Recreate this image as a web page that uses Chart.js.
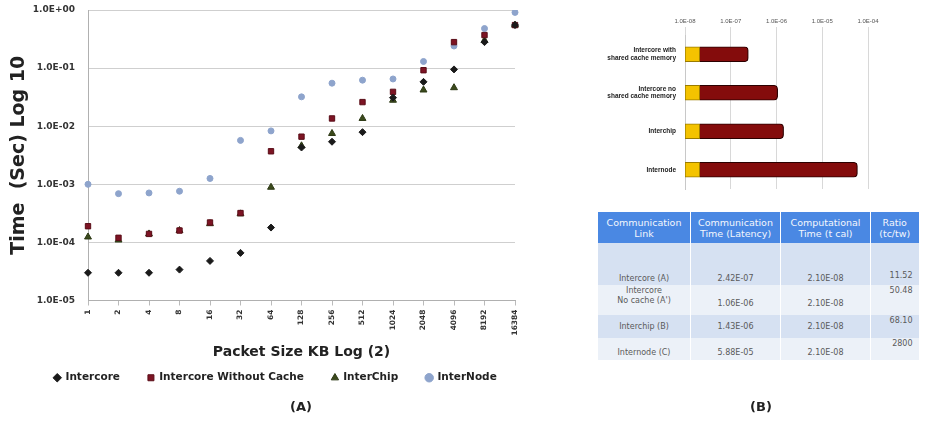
<!DOCTYPE html>
<html>
<head>
<meta charset="utf-8">
<script src="https://cdn.jsdelivr.net/npm/chart.js@4.4.1/dist/chart.umd.min.js"></script>
<style>
  html, body { margin:0; padding:0; background:#fff; width:925px; height:427px; overflow:hidden; font-family:"DejaVu Sans", sans-serif; }
  #wrapA { position:absolute; left:0; top:0; width:540px; height:409px; }
  #wrapB { position:absolute; left:590px; top:0; width:300px; height:200px; }
  .cap { position:absolute; top:399px; font:bold 13px "DejaVu Sans", sans-serif; color:#222; width:40px; text-align:center; }
  #tbl { position:absolute; left:597px; top:212px; width:321px; border-collapse:collapse; table-layout:fixed; font:8px "DejaVu Sans", sans-serif; color:#5a5a5a; }
  #tbl th { background:#4a88e3; color:#f4f7fd; font-weight:normal; font-size:9.5px; height:31px; padding:0; line-height:11px; border-left:1px solid #fff; vertical-align:middle; white-space:nowrap; overflow:hidden; }
  #tbl td { padding:0 1px; text-align:center; border-left:1px solid #fff; line-height:10px; white-space:nowrap; }
  #tbl tr.odd td { background:#d6e1f2; }
  #tbl tr.even td { background:#ecf1f8; }
</style>
</head>
<body>
<div id="wrapA"><canvas id="chartA"></canvas></div>
<div id="wrapB"><canvas id="chartB"></canvas></div>
<table id="tbl"></table>
<div class="cap" style="left:281px;">(A)</div>
<div class="cap" style="left:741px;">(B)</div>
<script>
// ---------- Panel A data ----------
const packetSizes = ['1','2','4','8','16','32','64','128','256','512','1024','2048','4096','8192','16384'];
const intercore        = [3.0e-5, 3.0e-5, 3.0e-5, 3.4e-5, 4.8e-5, 6.6e-5, 1.8e-4, 4.3e-3, 5.4e-3, 7.9e-3, 3.1e-2, 5.8e-2, 9.5e-2, 2.8e-1, 5.5e-1];
const intercoreNoCache = [1.9e-4, 1.2e-4, 1.4e-4, 1.6e-4, 2.2e-4, 3.2e-4, 3.7e-3, 6.6e-3, 1.36e-2, 2.6e-2, 3.9e-2, 9.2e-2, 2.8e-1, 3.7e-1, 5.5e-1];
const interChip        = [1.24e-4, 1.1e-4, 1.4e-4, 1.6e-4, 2.1e-4, 3.1e-4, 8.9e-4, 4.6e-3, 7.5e-3, 1.36e-2, 2.8e-2, 4.2e-2, 4.6e-2, 3.0e-1, 5.5e-1];
const interNode        = [1.0e-3, 6.9e-4, 7.1e-4, 7.6e-4, 1.26e-3, 5.7e-3, 8.3e-3, 3.2e-2, 5.5e-2, 6.2e-2, 6.5e-2, 1.3e-1, 2.4e-1, 4.8e-1, 9.1e-1];
const seriesNames = ['Intercore', 'Intercore Without Cache', 'InterChip', 'InterNode'];
const yTicksA = [1e-5, 1e-4, 1e-3, 1e-2, 1e-1, 1];

// ---------- Panel B data ----------
const barLabels = [['Intercore with','shared cache memory'], ['Intercore no','shared cache memory'], ['Interchip'], ['Internode']];
const linkNames = ['Intercore (A)', 'Intercore<br>No cache (A\')', 'Interchip (B)', 'Internode (C)'];
const commTime = [2.42e-7, 1.06e-6, 1.43e-6, 5.88e-5];
const compTime = [2.10e-8, 2.10e-8, 2.10e-8, 2.10e-8];
const ratios   = ['11.52', '50.48', '68.10', '2800'];
const tableHeaders = ['Communication<br>Link', 'Communication<br>Time (Latency)', 'Computational<br>Time (t cal)', 'Ratio<br>(tc/tw)'];
const xTicksB = [1e-8, 1e-7, 1e-6, 1e-5, 1e-4];

const FONT = '"DejaVu Sans", sans-serif';
const FONT2 = '"Liberation Sans", Arial, sans-serif';
function expFmt(v, digits) {
  const e = Math.floor(Math.log10(v) + 1e-9);
  const m = v / Math.pow(10, e);
  return m.toFixed(digits) + 'E' + (e < 0 ? '-' : '+') + String(Math.abs(e)).padStart(2, '0');
}

// ---------- Chart A ----------
const legendShift = {
  id: 'legendShift',
  afterLayout(chart) {
    if (chart.legend) {
      chart.legend.top -= 16;
      chart.legend.bottom -= 16;
      chart.legend.left += 18;
      chart.legend.right += 18;
    }
  }
};

new Chart(document.getElementById('chartA'), {
  type: 'line',
  plugins: [legendShift],
  data: {
    labels: packetSizes,
    datasets: [
      { label: seriesNames[0], data: intercore, pointStyle: 'rectRot', pointRadius: 3.5, backgroundColor: '#1a1a1a', borderColor: '#1a1a1a' },
      { label: seriesNames[1], data: intercoreNoCache, pointStyle: 'rect', pointRadius: 3.8, backgroundColor: '#7d1424', borderColor: '#5a0e18' },
      { label: seriesNames[2], data: interChip, pointStyle: 'triangle', pointRadius: 4, backgroundColor: '#3b4a1c', borderColor: '#2c3814' },
      { label: seriesNames[3], data: interNode, pointStyle: 'circle', pointRadius: 3, backgroundColor: '#8ea4cc', borderColor: '#8ea4cc' }
    ].map(d => Object.assign(d, { showLine: false, borderWidth: 1 }))
  },
  options: {
    animation: false,
    responsive: true,
    maintainAspectRatio: false,
    layout: { padding: { left: 0, right: 25, top: 10, bottom: 0 } },
    plugins: {
      tooltip: { enabled: false },
      legend: {
        position: 'bottom',
        labels: {
          usePointStyle: true, boxWidth: 6, boxHeight: 6, padding: 28,
          font: { family: FONT, size: 10.5, weight: 'bold' }, color: '#222'
        }
      }
    },
    scales: {
      x: {
        type: 'category',
        offset: false,
        grid: { display: true, drawOnChartArea: false, drawTicks: true, tickLength: 5, color: '#bbb' },
        border: { color: '#b0b0b0' },
        ticks: { autoSkip: false, minRotation: 90, maxRotation: 90, padding: 4, font: { family: FONT, size: 7.5, weight: 'bold' }, color: '#333' },
        title: { display: true, text: 'Packet Size KB Log (2)', font: { family: FONT, size: 14, weight: 'bold' }, color: '#222', padding: { top: 0, bottom: 0 } },
        afterFit(s) { s.height = 60; }
      },
      y: {
        type: 'logarithmic',
        min: 1e-5, max: 1,
        afterBuildTicks(s) { s.ticks = yTicksA.map(v => ({ value: v })); },
        ticks: { callback: v => expFmt(v, 1), padding: 4, font: { family: FONT, size: 9, weight: 'bold' }, color: '#333' },
        grid: { color: '#cfcfcf', drawTicks: true, tickLength: 9, tickColor: 'rgba(0,0,0,0)' },
        border: { color: '#b0b0b0' },
        title: { display: true, text: 'Time  (Sec) Log 10', font: { family: FONT, size: 19, weight: 'bold' }, color: '#222', padding: { top: 8, bottom: 0 } },
        afterFit(s) { s.width = 88; }
      }
    }
  }
});

// ---------- Chart B ----------
const axisMinB = xTicksB[0];
new Chart(document.getElementById('chartB'), {
  type: 'bar',
  data: {
    labels: barLabels,
    datasets: [
      { label: 'Computational Time', data: compTime.map(v => [axisMinB, v]), backgroundColor: '#f4c300', borderColor: '#9a7b00', borderWidth: 1, barThickness: 15, grouped: false, borderSkipped: false },
      { label: 'Communication Time', data: commTime.map((v, i) => [compTime[i], v]), backgroundColor: '#840c0c', borderColor: '#2b0000', borderWidth: 1.2, barThickness: 15, grouped: false, borderSkipped: 'start', borderRadius: { topRight: 4, bottomRight: 4, topLeft: 0, bottomLeft: 0 } }
    ]
  },
  options: {
    animation: false,
    responsive: true,
    maintainAspectRatio: false,
    indexAxis: 'y',
    layout: { padding: { left: 0, right: 22, top: 0, bottom: 11 } },
    plugins: { legend: { display: false }, tooltip: { enabled: false } },
    scales: {
      x: {
        type: 'logarithmic', position: 'top',
        min: xTicksB[0], max: xTicksB[xTicksB.length - 1],
        afterBuildTicks(s) { s.ticks = xTicksB.map(v => ({ value: v })); },
        ticks: { callback: v => expFmt(v, 1), padding: 2, font: { family: FONT2, size: 6 }, color: '#555' },
        grid: { color: '#d8d8d8', tickLength: 8 },
        border: { display: false },
        afterFit(s) { s.height = 35; }
      },
      y: {
        grid: { display: true, drawOnChartArea: false, drawTicks: true, tickLength: 8, tickColor: 'rgba(0,0,0,0)' },
        border: { color: '#c8c8c8' },
        ticks: { padding: 1, font: { family: FONT2, size: 6.5, weight: 'bold' }, color: '#222' },
        afterFit(s) { s.width = 95; }
      }
    }
  }
});

// ---------- Table ----------
const tbl = document.getElementById('tbl');
let html = '<colgroup><col style="width:93px"><col style="width:90px"><col style="width:90px"><col style="width:48px"></colgroup>';
html += '<tr>' + tableHeaders.map(h => '<th>' + h + '</th>').join('') + '</tr>';
const rowH = [42, 30, 23, 22];
const valign = [['bottom','bottom','bottom','bottom'], ['top','bottom','bottom','top'], ['middle','middle','middle','top'], ['bottom','bottom','bottom','top']];
const padB = [1, 6, 0, 2];
for (let i = 0; i < linkNames.length; i++) {
  const cells = [linkNames[i], expFmt(commTime[i], 2), expFmt(compTime[i], 2), ratios[i]];
  html += '<tr class="' + (i % 2 === 0 ? 'odd' : 'even') + '" style="height:' + rowH[i] + 'px">' +
    cells.map((c, j) => {
      const va = valign[i][j];
      let pad = va === 'bottom' ? 'padding-bottom:' + padB[i] + 'px;' : (va === 'top' ? 'padding-top:1px;' : '');
      if (i === 0 && j === 3) pad = 'padding-bottom:4px;';
      const ta = j === 3 ? 'text-align:right;padding-right:6px;' : '';
      return '<td style="vertical-align:' + va + ';' + pad + ta + '">' + c + '</td>';
    }).join('') + '</tr>';
}
tbl.innerHTML = html;
</script>
</body>
</html>
